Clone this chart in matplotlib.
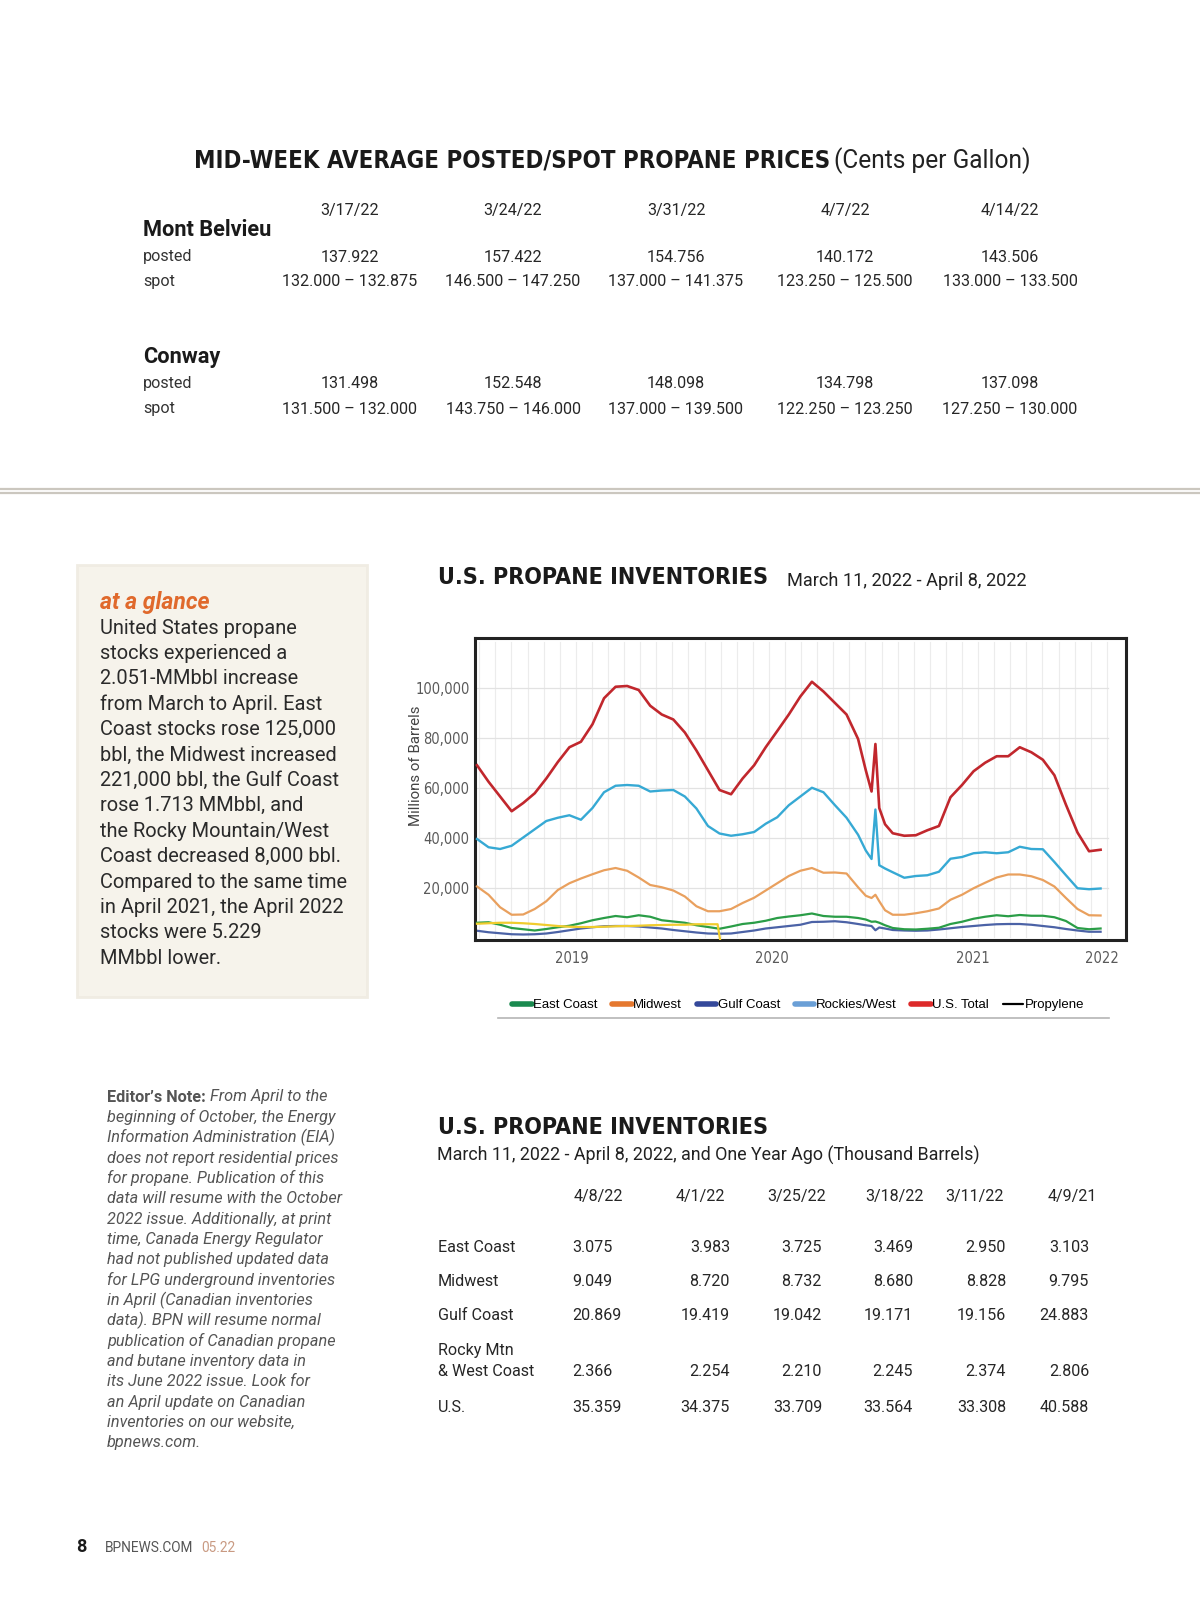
import numpy as np
import matplotlib
matplotlib.use("Agg")
import matplotlib.pyplot as plt
from matplotlib import font_manager
from matplotlib.font_manager import FontProperties
from matplotlib.lines import Line2D
from matplotlib.patches import FancyBboxPatch

installed = {f.name for f in font_manager.fontManager.ttflist}
BODY = "Roboto" if "Roboto" in installed else "DejaVu Sans"
ARIAL = "Liberation Sans" if "Liberation Sans" in installed else "DejaVu Sans"


def find_condensed(bold):
    for f in font_manager.fontManager.ttflist:
        st = str(f.stretch)
        narrow = any(k in f.name for k in ("Condensed", "Narrow")) or \
            st in ("condensed", "semi-condensed", "extra-condensed", "ultra-condensed") or \
            (st.isdigit() and int(st) < 500)
        w = f.weight if isinstance(f.weight, int) else {"bold": 700}.get(f.weight, 400)
        slanted = f.style != "normal" or "Italic" in f.fname or "Oblique" in f.fname
        if narrow and not slanted and (w >= 700) == bold:
            return FontProperties(fname=f.fname)
    return None


HEAVY = find_condensed(True) or FontProperties(family=BODY, weight="black")
COND = find_condensed(False) or FontProperties(family=BODY)

# --- mid-week price table ---
price_dates = ["3/17/22", "3/24/22", "3/31/22", "4/7/22", "4/14/22"]
mb_posted = ["137.922", "157.422", "154.756", "140.172", "143.506"]
mb_spot = ["132.000 – 132.875", "146.500 – 147.250", "137.000 – 141.375",
           "123.250 – 125.500", "133.000 – 133.500"]
cw_posted = ["131.498", "152.548", "148.098", "134.798", "137.098"]
cw_spot = ["131.500 – 132.000", "143.750 – 146.000", "137.000 – 139.500",
           "122.250 – 123.250", "127.250 – 130.000"]

# --- inventory table (thousand barrels) ---
inv_dates = ["4/8/22", "4/1/22", "3/25/22", "3/18/22", "3/11/22", "4/9/21"]
inv_regions = ["East Coast", "Midwest", "Gulf Coast", "Rocky Mtn\n& West Coast", "U.S."]
inv_east = ["3.075", "3.983", "3.725", "3.469", "2.950", "3.103"]
inv_midwest = ["9.049", "8.720", "8.732", "8.680", "8.828", "9.795"]
inv_gulf = ["20.869", "19.419", "19.042", "19.171", "19.156", "24.883"]
inv_rocky = ["2.366", "2.254", "2.210", "2.245", "2.374", "2.806"]
inv_us = ["35.359", "34.375", "33.709", "33.564", "33.308", "40.588"]

# --- inventory chart, weeks since start, millions of barrels ---
weeks = list(range(0, 100, 3)) + [101, 102.5, 103.5, 104.5, 106] + list(range(108, 163, 3))
us_total = [69.2, 62.6, 56.7, 50.8, 54.1, 58.0, 63.9, 70.5, 76.4, 78.6, 85.6, 96.0,
            100.6, 100.9, 99.3, 93.0, 89.5, 87.5, 82.3, 75.1, 67.2, 59.3, 57.6, 63.9,
            69.2, 76.4, 82.9, 89.5, 96.7, 102.6, 98.7, 94.1, 89.5, 79.7,
            67.2, 58.7, 77.7, 52.1, 45.6,
            42.0, 41.0, 41.2, 43.2, 44.9, 56.4, 61.3, 66.8, 70.2, 72.8, 72.8, 76.4,
            74.4, 71.4, 65.2, 53.4, 42.3, 34.8, 35.4]
gulf = [39.7, 36.4, 35.7, 37.0, 40.3, 43.6, 46.9, 48.2, 49.2, 47.4, 52.1, 58.4,
        61.0, 61.3, 61.0, 58.7, 59.1, 59.3, 56.7, 51.9, 44.9, 41.9, 41.0, 41.6,
        42.5, 45.8, 48.4, 53.2, 56.7, 60.2, 58.4, 53.2, 48.2, 41.4,
        35.1, 31.7, 51.5, 29.2, 27.9,
        26.4, 24.2, 24.9, 25.2, 26.6, 31.8, 32.5, 34.0, 34.4, 34.0, 34.4, 36.6,
        35.7, 35.6, 30.5, 25.2, 20.0, 19.6, 19.9]
midwest = [20.7, 17.4, 12.4, 9.4, 9.5, 11.7, 14.8, 19.3, 22.0, 23.9, 25.6, 27.2,
           28.1, 27.0, 24.3, 21.3, 20.4, 19.1, 16.7, 12.8, 10.8, 10.8, 11.7, 14.1,
           16.2, 19.1, 22.0, 24.9, 27.0, 28.1, 26.2, 26.3, 25.9, 20.4,
           17.0, 16.1, 17.4, 14.8, 11.2,
           9.4, 9.4, 10.0, 10.8, 11.9, 15.4, 17.4, 20.0, 22.2, 24.3, 25.5, 25.5,
           24.8, 23.3, 20.7, 16.1, 11.7, 9.2, 9.1]
east = [6.2, 6.4, 5.4, 4.1, 3.6, 3.1, 3.7, 4.4, 5.0, 6.0, 7.2, 8.1,
        8.9, 8.4, 9.2, 8.6, 7.2, 6.7, 6.2, 5.2, 4.5, 3.8, 4.7, 5.7,
        6.2, 7.0, 8.1, 8.7, 9.2, 9.9, 8.9, 8.6, 8.6, 8.1,
        7.5, 6.6, 6.7, 6.2, 5.2,
        4.1, 3.6, 3.5, 3.8, 4.2, 5.7, 6.6, 7.8, 8.6, 9.2, 8.8, 9.3,
        9.0, 9.0, 8.4, 6.9, 4.1, 3.6, 3.9]
rockies = [3.0, 2.4, 2.0, 1.6, 1.5, 1.6, 1.9, 2.5, 3.2, 3.9, 4.4, 4.8,
           4.9, 4.9, 4.7, 4.3, 3.9, 3.3, 2.8, 2.3, 1.9, 1.8, 1.9, 2.5,
           3.1, 3.9, 4.4, 4.9, 5.4, 6.5, 6.6, 6.8, 6.4, 5.7,
           5.2, 4.9, 3.2, 4.3, 3.9,
           3.3, 3.1, 3.0, 3.1, 3.5, 4.0, 4.5, 4.9, 5.3, 5.6, 5.7, 5.7,
           5.4, 4.9, 4.4, 3.7, 3.1, 2.6, 2.6]
prop_weeks = list(range(0, 61, 3)) + [62.5, 63.2]
propylene = [5.8, 6.0, 6.2, 6.2, 6.0, 5.7, 5.3, 4.9, 4.6, 4.5, 4.5, 4.6, 4.8, 4.9,
             5.0, 5.2, 5.3, 5.4, 5.4, 5.6, 5.6, 5.6, -1.0]
tick_weeks = [24.7, 76.6, 128.8, 162.3]
tick_years = ["2019", "2020", "2021", "2022"]

legend_names = ["East Coast", "Midwest", "Gulf Coast", "Rockies/West", "U.S. Total", "Propylene"]
legend_colors = ["#1a8a4f", "#e5782f", "#34489a", "#6a9fd6", "#dd2a2a", "black"]

glance = ["United States propane", "stocks experienced a", "2.051-MMbbl increase",
          "from March to April. East", "Coast stocks rose 125,000",
          "bbl, the Midwest increased", "221,000 bbl, the Gulf Coast",
          "rose 1.713 MMbbl, and", "the Rocky Mountain/West",
          "Coast decreased 8,000 bbl.", "Compared to the same time",
          "in April 2021, the April 2022", "stocks were 5.229", "MMbbl lower."]
note = ["From April to the", "beginning of October, the Energy",
        "Information Administration (EIA)", "does not report residential prices",
        "for propane. Publication of this", "data will resume with the October",
        "2022 issue. Additionally, at print", "time, Canada Energy Regulator",
        "had not published updated data", "for LPG underground inventories",
        "in April (Canadian inventories", "data). BPN will resume normal",
        "publication of Canadian propane", "and butane inventory data in",
        "its June 2022 issue. Look for", "an April update on Canadian",
        "inventories on our website,", "bpnews.com."]

fig = plt.figure(figsize=(12, 15.98), dpi=100)
page = fig.add_axes([0, 0, 1, 1])
page.set_xlim(0, 1200)
page.set_ylim(1598, 0)
page.axis("off")
r = fig.canvas.get_renderer()


def fit(t, width):
    w = t.get_window_extent(renderer=r).width
    t.set_fontsize(t.get_fontsize() * width / w)
    return t.get_fontsize()


INK = "#262626"

# top table
t = page.text(194, 161, "MID-WEEK AVERAGE POSTED/SPOT PROPANE PRICES", fontproperties=HEAVY,
              fontsize=20, va="center", color="#1a1a1a")
fit(t, 634)
t = page.text(834, 161, "(Cents per Gallon)", family=BODY, fontsize=16, va="center", color="#222")
fit(t, 197)

cols = [350, 513, 676, 845, 1010]
t = page.text(cols[0], 281.5, mb_spot[0], family=BODY, fontsize=14,
              ha="center", va="center", color=INK)
num_size = fit(t, 137)
rows = [(210, price_dates), (257, mb_posted), (281.5, mb_spot), (383.5, cw_posted), (409, cw_spot)]
for y, vals in rows:
    for x, v in zip(cols, vals):
        if y == 281.5 and x == cols[0]:
            continue
        page.text(x, y, v, family=BODY, fontsize=num_size,
                  ha="center", va="center", color=INK)
t = page.text(143, 230.5, "Mont Belvieu", family=BODY, weight="bold", fontsize=14,
              va="center", color="#1a1a1a")
bsize = fit(t, 129)
page.text(143, 357, "Conway", family=BODY, weight="bold", fontsize=bsize, va="center", color="#1a1a1a")
for y, s in [(257, "posted"), (281.5, "spot"), (383.5, "posted"), (409, "spot")]:
    page.text(143, y, s, family=BODY, fontsize=num_size, va="center", color="#333")

for y in (488.5, 493):
    page.plot([0, 1200], [y, y], color="#cbc7bf", lw=1.6)

# at a glance box
page.add_patch(FancyBboxPatch((77, 565), 290, 432, boxstyle="square,pad=0",
                              facecolor="#f6f3eb", edgecolor="#f0ece3", lw=2))
t = page.text(100, 603, "at a glance", family=BODY, weight="bold", style="italic",
              fontsize=14, va="center", color="#e0692c")
fit(t, 110)
t = page.text(100, 628, glance[0], family=BODY, fontsize=13.5, va="center", color="#2a2a2a")
gsize = fit(t, 197)
for i, line in enumerate(glance[1:], start=1):
    page.text(100, 628 + 25.4 * i, line, family=BODY, fontsize=gsize, va="center", color="#2a2a2a")

# editor's note
t = page.text(107, 1097, "Editor’s Note:", family=BODY, weight="bold", fontsize=10.5,
              va="center", color="#555")
t2 = page.text(107, 1117.4, note[1], family=BODY, style="italic", fontsize=10.5,
               va="center", color="#555")
nsize = fit(t2, 229)
t.set_fontsize(nsize)
x1 = t.get_window_extent(renderer=r).x1
page.text(x1 + 4, 1097, note[0], family=BODY, style="italic", fontsize=nsize, va="center", color="#555")
for i, line in enumerate(note[2:], start=2):
    page.text(107, 1097 + 20.35 * i, line, family=BODY, style="italic", fontsize=nsize,
              va="center", color="#555")

# chart header
t = page.text(438, 577, "U.S. PROPANE INVENTORIES", fontproperties=HEAVY,
              fontsize=20, va="center", color="#1a1a1a")
hsize = fit(t, 330)
t = page.text(787, 581, "March 11, 2022 - April 8, 2022", family=BODY, fontsize=12,
              va="center", color="#222")
fit(t, 239)
page.text(416, 766, "Millions of Barrels", family=BODY, fontsize=10.8, rotation=90,
          ha="center", va="center", color="#444")

# chart
ax = fig.add_axes([475 / 1200, 1 - 940 / 1598, 651 / 1200, 302 / 1598])
ax.set_xlim(-0.52, 168.6)
ax.set_ylim(-0.7, 120.1)
for xv in np.arange(0.6, 165, 4.18):
    ax.plot([xv, xv], [0.5, 118.5], color="#ececec", lw=0.8, zorder=0)
for yv in (20, 40, 60, 80, 100):
    ax.plot([0, 164], [yv, yv], color="#e2e2e2", lw=0.9, zorder=0)
ax.plot(weeks, rockies, color="#4b62a6", lw=1.6, zorder=2)
ax.plot(weeks, east, color="#2a9d47", lw=1.6, zorder=3)
ax.plot(prop_weeks, propylene, color="#f0cc2e", lw=1.6, zorder=4)
ax.plot(weeks, midwest, color="#e9a05e", lw=1.6, zorder=5)
ax.plot(weeks, gulf, color="#36a9d4", lw=1.7, zorder=6)
ax.plot(weeks, us_total, color="#c1272d", lw=1.9, zorder=7)
ax.set_yticks([20, 40, 60, 80, 100])
ax.set_yticklabels([f"{v * 1000:,}" for v in (20, 40, 60, 80, 100)])
ax.set_xticks(tick_weeks)
ax.set_xticklabels(tick_years)
ax.tick_params(length=0, labelcolor="#5a5a5a", pad=4)
ax.tick_params(axis="x", pad=8)
for lab in ax.get_xticklabels() + ax.get_yticklabels():
    lab.set_fontproperties(COND)
    lab.set_fontsize(10.5)
for sp in ax.spines.values():
    sp.set_linewidth(2.2)
    sp.set_color("#222")

handles = [Line2D([], [], color=c, lw=4 if c != "black" else 1.6, solid_capstyle="round")
           for c in legend_colors]
fig.legend(handles, legend_names, loc="center", bbox_to_anchor=(798 / 1200, 1 - 1005 / 1598),
           ncol=6, frameon=False, handlelength=1.5, handletextpad=0.1, columnspacing=1.1,
           prop={"family": ARIAL, "size": 9.5})
page.plot([498, 1109], [1018, 1018], color="#b5b5b5", lw=1.2)

# inventory table
page.text(438, 1128, "U.S. PROPANE INVENTORIES", fontproperties=HEAVY,
          fontsize=hsize, va="center", color="#1a1a1a")
t = page.text(437, 1155, "March 11, 2022 - April 8, 2022, and One Year Ago (Thousand Barrels)",
              family=BODY, fontsize=12, va="center", color="#222")
fit(t, 542)
head_x = [598, 700, 797, 894, 975, 1072]
for x, d in zip(head_x, inv_dates):
    page.text(x, 1196, d, family=BODY, fontsize=num_size, ha="center",
              va="center", color=INK)
row_y = [1247, 1281, 1316, 1372, 1407]
val_x = [572, 730, 822, 913, 1006, 1089]
for y, name, vals in zip(row_y, inv_regions, [inv_east, inv_midwest, inv_gulf, inv_rocky, inv_us]):
    parts = name.split("\n")
    for k, part in enumerate(parts):
        page.text(438, y - 22 * (len(parts) - 1 - k), part, family=BODY, fontsize=num_size,
                  va="center", color=INK)
    for j, (x, v) in enumerate(zip(val_x, vals)):
        page.text(x, y, v, family=BODY, fontsize=num_size,
                  ha="left" if j == 0 else "right", va="center", color=INK)

# footer
page.text(76, 1547, "8", family=BODY, weight="bold", fontsize=13, va="center", color="#1a1a1a")
t = page.text(105, 1548, "BPNEWS.COM", family=BODY, fontsize=9, va="center", color="#555")
fit(t, 88)
page.text(201, 1548, "05.22", family=BODY, fontsize=t.get_fontsize(), va="center", color="#c99a82")

fig.savefig("out.png", dpi=100, facecolor="white")
